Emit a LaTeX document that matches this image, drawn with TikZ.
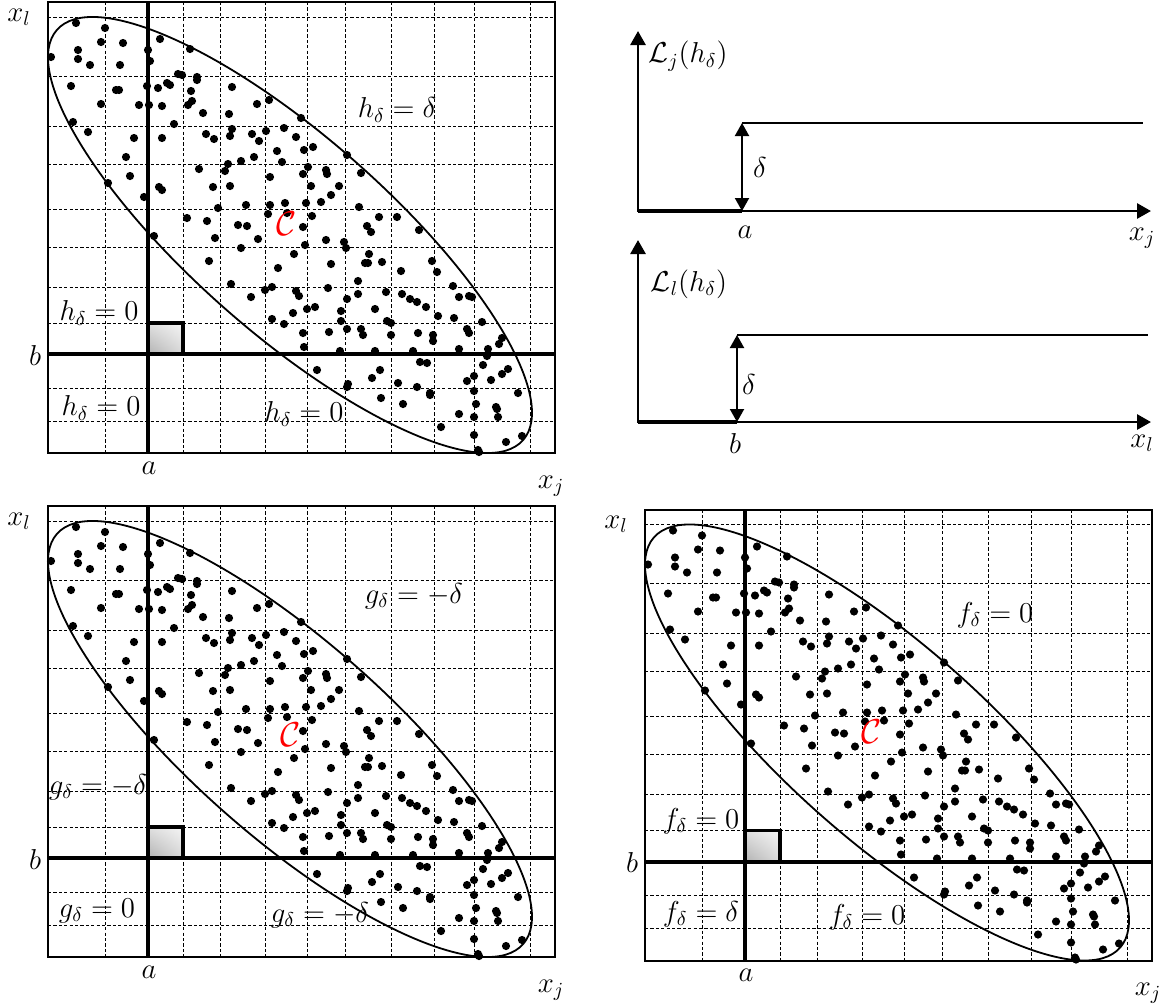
\documentclass[tikz,border=0pt]{standalone}
\usepackage{amsmath,amssymb}
\usepackage{tikz}
\usetikzlibrary{arrows.meta,shadings}

\begin{document}
\begin{tikzpicture}[x=0.5pt,y=-0.5pt,
  lbl/.style={font=\fontsize{14}{16}\selectfont, inner sep=0pt},
  setlbl/.style={font=\fontsize{19}{22}\selectfont, inner sep=0pt, text=red},
  gridline/.style={dash pattern=on 1.6pt off 1.1pt, line width=0.5pt},
  frameline/.style={line width=1pt},
  refline/.style={line width=2pt},
  ellipseline/.style={line width=0.9pt},
  axisarrow/.style={line width=1.4pt, line cap=rect, -{Triangle[length=7pt,width=7.5pt]}},
  deltaarrow/.style={line width=1pt, {Triangle[length=6.5pt,width=7pt]}-{Triangle[length=6.5pt,width=7pt]}},
  stepline/.style={line width=0.9pt}]
  \useasboundingbox (0,0) rectangle (1165,1007);

  % the three scatter panels: same grid, ellipse and points
  \foreach \sx/\sy/\tag in {0/0/tl, 0/504/bl, 597/507.5/br} {
    \begin{scope}[shift={(\sx,\sy)}]
      \coordinate (\tag-nw) at (48,2);
      \coordinate (\tag-se) at (555,453);
      \coordinate (\tag-c) at (290,235);
      % dashed grid
      \foreach \gx in {105,183,220,265,307,345,391,434,474,530}
        \draw[gridline] (\gx,2) -- (\gx,453);
      \foreach \gy in {17,76,126,164,209,247,287,323,388,421}
        \draw[gridline] (48,\gy) -- (555,\gy);
      \draw[frameline] (\tag-nw) rectangle (\tag-se);
      % x_j = a and x_l = b
      \coordinate (\tag-a0) at (148,2);
      \coordinate (\tag-a1) at (148,453);
      \coordinate (\tag-b0) at (48,354);
      \coordinate (\tag-b1) at (555,354);
      \draw[refline] (\tag-a0) -- (\tag-a1);
      \draw[refline] (\tag-b0) -- (\tag-b1);
      % the set C
      \draw[ellipseline, rotate around={-41.35:(\tag-c)}] (\tag-c) ellipse [x radius=310.5, y radius=98.2];
      \foreach \px/\py in {
        76/23, 105/28, 51/57, 78/50, 78/59, 90/65, 101/42, 123/43, 120/65, 148/50,
        150/61, 160/39, 190/49, 71/86, 101/104, 116/90, 119/90, 139/105, 147/86, 149/105,
        158/88, 167/83, 170/85, 162/106, 178/74, 182/75, 197/77, 197/80, 191/91, 192/101,
        188/105, 203/113, 174/124, 232/87, 229/114, 257/104, 269/100, 73/122, 88/132, 134/138,
        162/138, 126/157, 130/176, 108/183, 144/197, 159/187, 162/190, 154/236, 206/134, 214/139,
        230/136, 232/129, 252/134, 259/141, 266/131, 284/128, 277/151, 282/162, 241/161, 228/164,
        225/171, 254/157, 199/169, 213/187, 230/186, 270/177, 218/208, 246/205, 187/218, 207/221,
        215/238, 238/225, 247/226, 241/248, 258/239, 270/205, 268/214, 285/203, 287/213, 209/261,
        231/284, 251/297, 265/290, 272/287, 278/268, 272/319, 284/324,
        301/118, 296/137, 304/150, 313/147, 308/167, 303/174, 326/170, 327/174, 347/155, 361/173,
        311/186, 339/186, 331/195, 321/202, 306/203, 312/216, 303/227, 305/245, 326/240, 344/242,
        346/248, 359/207, 367/226, 371/232, 379/217, 397/217, 419/230, 294/254, 331/264, 369/254,
        365/263, 368/263, 382/262, 401/271, 358/281, 328/288, 432/261, 437/272, 296/291, 299/296,
        293/313, 307/309, 315/307, 303/333, 304/347, 329/332, 341/311, 341/321, 347/299, 347/329,
        340/351, 358/294, 375/309, 386/292, 361/329, 363/335, 375/351, 387/321, 391/323, 391/335,
        402/294, 410/299, 417/302, 426/307, 438/316, 418/333, 413/351, 433/335, 433/341, 453/286,
        459/297, 469/296, 472/297, 454/318, 467/329, 469/333, 482/322, 459/349, 502/338, 499/344,
        488/349, 487/356, 483/365, 317/370, 348/384, 347/387, 372/378, 380/370, 420/362, 427/363,
        398/383, 417/387, 430/393, 430/395, 381/398, 403/404, 467/381, 474/376, 491/380, 502/374,
        508/369, 518/393, 474/391, 476/404, 496/407, 497/409, 498/417, 459/414, 474/417, 441/427,
        474/435, 506/442, 522/436, 478/450, 479/452}
        \fill (\px,\py) circle[radius=4.1];
      % small grey cell at (a,b)
      \coordinate (\tag-sq0) at (148,354);
      \coordinate (\tag-sq1) at (183,323);
      \shade[lower left=gray!60, upper right=gray!8, upper left=gray!25, lower right=gray!30] (\tag-sq0) rectangle (\tag-sq1);
      \draw[line width=1.6pt] (\tag-sq0) rectangle (\tag-sq1);
      % axis labels
      \node[lbl] (\tag-xl) at (19,17) {$x_l$};
      \node[lbl] (\tag-b) at (35,355) {$b$};
      \node[lbl] (\tag-a) at (149,468) {$a$};
      \node[lbl] (\tag-xj) at (551,486) {$x_j$};
    \end{scope}
  }

  % top left: h
  \node[lbl] (h-up) at (397,110) {$h_\delta = \delta$};
  \node[setlbl] (c-tl) at (287,224) {$\mathcal{C}$};
  \node[lbl] (h-left) at (99,313) {$h_\delta = 0$};
  \node[lbl] (h-low) at (101,408) {$h_\delta = 0$};
  \node[lbl] (h-mid) at (304,414) {$h_\delta = 0$};

  % bottom left: g
  \node[lbl] (g-up) at (414,596) {$g_\delta = -\delta$};
  \node[setlbl] (c-bl) at (291,735) {$\mathcal{C}$};
  \node[lbl] (g-left) at (98,787) {$g_\delta = -\delta$};
  \node[lbl] (g-low) at (97,911) {$g_\delta = 0$};
  \node[lbl] (g-mid) at (320,915) {$g_\delta = -\delta$};

  % bottom right: f
  \node[lbl] (f-up) at (995,615) {$f_\delta = 0$};
  \node[setlbl] (c-br) at (872,732) {$\mathcal{C}$};
  \node[lbl] (f-left) at (701,821) {$f_\delta = 0$};
  \node[lbl] (f-low) at (701,914) {$f_\delta = \delta$};
  \node[lbl] (f-mid) at (867,917) {$f_\delta = 0$};

  % loss along x_j
  \coordinate (oj) at (638,211);
  \coordinate (yj) at (638,31);
  \coordinate (xj) at (1151,211);
  \coordinate (sj0) at (742,211);
  \coordinate (sj1) at (742,123);
  \coordinate (ej) at (1143,123);
  \draw[axisarrow] (oj) -- (yj);
  \draw[axisarrow] (oj) -- (xj);
  \draw[line width=2pt] (oj) -- (sj0);
  \draw[deltaarrow] (sj0) -- (sj1);
  \draw[stepline] (sj1) -- (ej);
  \node[lbl] (lj) at (688,56) {$\mathcal{L}_j(h_\delta)$};
  \node[lbl] (dj) at (760,167) {$\delta$};
  \node[lbl] (aj) at (745,232) {$a$};
  \node[lbl] (xjl) at (1142,238) {$x_j$};

  % loss along x_l
  \coordinate (ol) at (638,422);
  \coordinate (yl) at (638,240);
  \coordinate (xl) at (1151,422);
  \coordinate (sl0) at (737,422);
  \coordinate (sl1) at (737,335);
  \coordinate (el) at (1148,335);
  \draw[axisarrow] (ol) -- (yl);
  \draw[axisarrow] (ol) -- (xl);
  \draw[line width=2pt] (ol) -- (sl0);
  \draw[deltaarrow] (sl0) -- (sl1);
  \draw[stepline] (sl1) -- (el);
  \node[lbl] (ll) at (689,284) {$\mathcal{L}_l(h_\delta)$};
  \node[lbl] (dl) at (749,384) {$\delta$};
  \node[lbl] (bl) at (735,443) {$b$};
  \node[lbl] (xll) at (1142,443) {$x_l$};
\end{tikzpicture}
\end{document}
